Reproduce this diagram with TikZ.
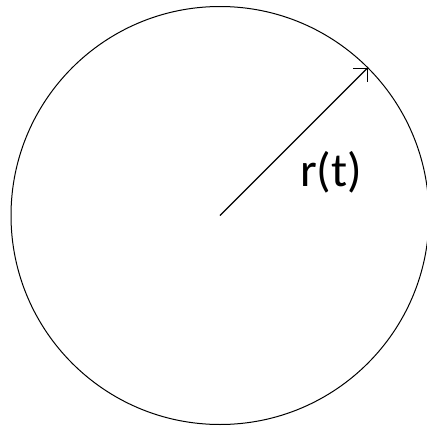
\documentclass[tikz,border=0pt]{standalone}
\usepackage{fontspec}
\setsansfont{Carlito}
\usetikzlibrary{arrows.meta}

\begin{document}
\begin{tikzpicture}[x=0.5pt,y=-0.5pt,
      rim/.style={draw,circle,line width=0.5pt,minimum size=209pt,inner sep=0pt,outer sep=0pt},
      vec/.style={-{Straight Barb[angle=90:7pt]},line width=0.6pt},
      lbl/.style={font=\sffamily\fontsize{24}{28}\selectfont,inner sep=0pt,anchor=base}]
    \useasboundingbox (0,0) rectangle (427,429);
    \node[rim] (c) at (220,215.5) {};
    \coordinate (o) at (c.center);
    \draw[vec] (o) -- (c.45);
    \node[lbl] (r) at (331,186) {r(t)};
  \end{tikzpicture}
\end{document}
